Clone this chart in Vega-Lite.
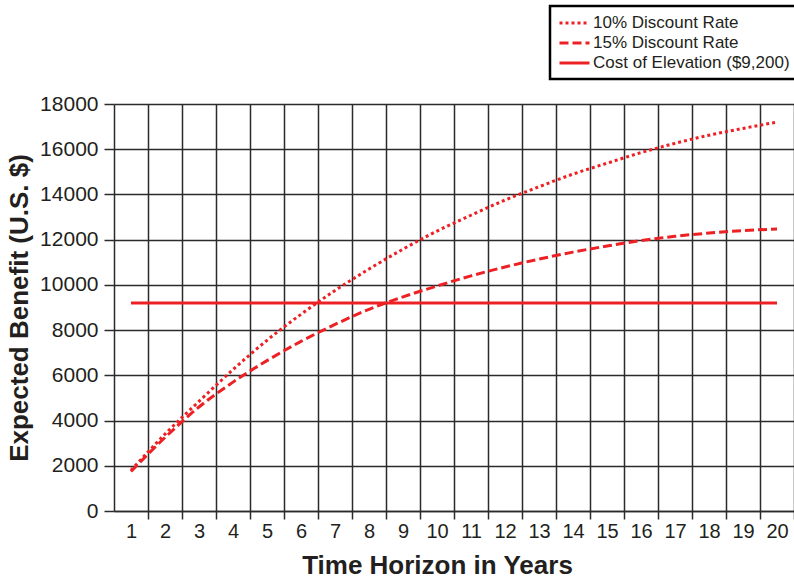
{
  "$schema": "https://vega.github.io/schema/vega-lite/v6.json",
  "width": 680,
  "height": 407,
  "autosize": {"type": "none"},
  "padding": {"left": 114, "top": 104, "right": 0, "bottom": 67},
  "background": "white",
  "config": {
    "view": {"stroke": null},
    "font": "Liberation Sans",
    "legend": {"strokeWidth": 2.5},
    "axis": {
      "domainColor": "#2b2b2b",
      "gridColor": "#2b2b2b",
      "tickColor": "#2b2b2b",
      "domainWidth": 1.5,
      "gridWidth": 1.5,
      "tickWidth": 1.5,
      "gridOpacity": 1,
      "labelColor": "#231f20",
      "titleColor": "#231f20",
      "labelFont": "Liberation Sans",
      "titleFont": "Liberation Sans"
    }
  },
  "data": {
    "values": [
      {"year": 1, "benefit": 1800, "series": "10% Discount Rate"},
      {"year": 2, "benefit": 3400, "series": "10% Discount Rate"},
      {"year": 3, "benefit": 4850, "series": "10% Discount Rate"},
      {"year": 4, "benefit": 6250, "series": "10% Discount Rate"},
      {"year": 5, "benefit": 7550, "series": "10% Discount Rate"},
      {"year": 6, "benefit": 8700, "series": "10% Discount Rate"},
      {"year": 7, "benefit": 9750, "series": "10% Discount Rate"},
      {"year": 8, "benefit": 10700, "series": "10% Discount Rate"},
      {"year": 9, "benefit": 11580, "series": "10% Discount Rate"},
      {"year": 10, "benefit": 12380, "series": "10% Discount Rate"},
      {"year": 11, "benefit": 13080, "series": "10% Discount Rate"},
      {"year": 12, "benefit": 13750, "series": "10% Discount Rate"},
      {"year": 13, "benefit": 14340, "series": "10% Discount Rate"},
      {"year": 14, "benefit": 14900, "series": "10% Discount Rate"},
      {"year": 15, "benefit": 15380, "series": "10% Discount Rate"},
      {"year": 16, "benefit": 15850, "series": "10% Discount Rate"},
      {"year": 17, "benefit": 16260, "series": "10% Discount Rate"},
      {"year": 18, "benefit": 16620, "series": "10% Discount Rate"},
      {"year": 19, "benefit": 16920, "series": "10% Discount Rate"},
      {"year": 20, "benefit": 17200, "series": "10% Discount Rate"},
      {"year": 1, "benefit": 1750, "series": "15% Discount Rate"},
      {"year": 2, "benefit": 3250, "series": "15% Discount Rate"},
      {"year": 3, "benefit": 4600, "series": "15% Discount Rate"},
      {"year": 4, "benefit": 5700, "series": "15% Discount Rate"},
      {"year": 5, "benefit": 6650, "series": "15% Discount Rate"},
      {"year": 6, "benefit": 7500, "series": "15% Discount Rate"},
      {"year": 7, "benefit": 8250, "series": "15% Discount Rate"},
      {"year": 8, "benefit": 8920, "series": "15% Discount Rate"},
      {"year": 9, "benefit": 9470, "series": "15% Discount Rate"},
      {"year": 10, "benefit": 9950, "series": "15% Discount Rate"},
      {"year": 11, "benefit": 10400, "series": "15% Discount Rate"},
      {"year": 12, "benefit": 10790, "series": "15% Discount Rate"},
      {"year": 13, "benefit": 11140, "series": "15% Discount Rate"},
      {"year": 14, "benefit": 11450, "series": "15% Discount Rate"},
      {"year": 15, "benefit": 11720, "series": "15% Discount Rate"},
      {"year": 16, "benefit": 11960, "series": "15% Discount Rate"},
      {"year": 17, "benefit": 12150, "series": "15% Discount Rate"},
      {"year": 18, "benefit": 12290, "series": "15% Discount Rate"},
      {"year": 19, "benefit": 12400, "series": "15% Discount Rate"},
      {"year": 20, "benefit": 12470, "series": "15% Discount Rate"},
      {"year": 1, "benefit": 9200, "series": "Cost of Elevation ($9,200)"},
      {"year": 20, "benefit": 9200, "series": "Cost of Elevation ($9,200)"}
    ]
  },
  "mark": {"type": "line", "color": "#ed2024", "strokeWidth": 3, "interpolate": "monotone", "strokeCap": "butt"},
  "encoding": {
    "x": {
      "field": "year",
      "type": "quantitative",
      "scale": {"domain": [0.5, 20.5], "nice": false, "zero": false},
      "axis": {
        "values": [1.5, 2.5, 3.5, 4.5, 5.5, 6.5, 7.5, 8.5, 9.5, 10.5, 11.5, 12.5, 13.5, 14.5, 15.5, 16.5, 17.5, 18.5, 19.5, 20.5],
        "labelExpr": "format(datum.value - 0.5, 'd')",
        "labelOffset": -17,
        "labelAlign": "center",
        "labelFlush": false,
        "labelOverlap": false,
        "labelBound": false,
        "labelFontSize": 20,
        "labelPadding": 2,
        "tickSize": 8,
        "grid": true,
        "domain": true,
        "title": "Time Horizon in Years",
        "titleFontSize": 26,
        "titleFontWeight": "bold",
        "titleX": 323,
        "titleY": 62,
        "titleBaseline": "alphabetic",
        "titleAnchor": null
      }
    },
    "y": {
      "field": "benefit",
      "type": "quantitative",
      "scale": {"domain": [0, 18000], "nice": false},
      "axis": {
        "values": [0, 2000, 4000, 6000, 8000, 10000, 12000, 14000, 16000, 18000],
        "format": "d",
        "labelFontSize": 21,
        "labelPadding": 6,
        "tickSize": 10,
        "grid": true,
        "domain": true,
        "title": "Expected Benefit (U.S. $)",
        "titleFontSize": 26,
        "titleFontWeight": "bold",
        "titleX": -87,
        "titleBaseline": "alphabetic"
      }
    },
    "strokeDash": {
      "field": "series",
      "type": "nominal",
      "scale": {
        "domain": ["10% Discount Rate", "15% Discount Rate", "Cost of Elevation ($9,200)"],
        "range": [[3, 3], [9, 4], [1, 0]]
      },
      "legend": {
        "title": null,
        "orient": "none",
        "legendX": 436,
        "legendY": -98,
        "symbolType": "M-1,0H3",
        "symbolSize": 225,
        "symbolStrokeWidth": 3,
        "symbolStrokeColor": "#ed2024",
        "symbolFillColor": "transparent",
        "labelFontSize": 17,
        "labelLimit": 300,
        "labelColor": "#231f20",
        "labelOffset": 17,
        "padding": 8,
        "rowPadding": 3,
        "strokeColor": "black",
        "fillColor": "white"
      }
    }
  }
}
